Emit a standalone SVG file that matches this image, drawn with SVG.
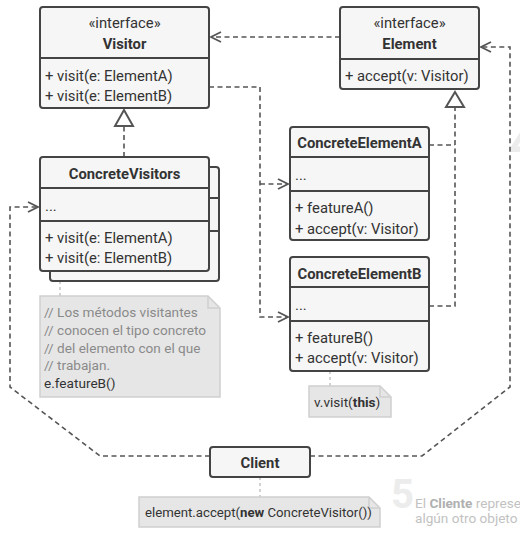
<svg xmlns="http://www.w3.org/2000/svg" width="520" height="534" viewBox="0 0 520 534">
<defs>
<style>
text{font-family:Roboto,"Liberation Sans",sans-serif;font-size:14.8px;fill:#333}
.b{font-weight:bold}
.c{text-anchor:middle}
.n{font-size:13.6px}
.box{fill:#f6f6f6;stroke:#444;stroke-width:2}
.div{stroke:#444;stroke-width:2;fill:none}
.note{fill:#e6e6e6;stroke:#cfcfcf;stroke-width:1.5}
.cm{fill:#8a8a8a}
.con{fill:none;stroke:#555;stroke-width:1.6;stroke-dasharray:5,3.5}
.dot{fill:none;stroke:#c4c4c4;stroke-width:1.5;stroke-dasharray:3,3}
.tri{fill:#fff;stroke:#555;stroke-width:2}
.bg{fill:#ececec;font-weight:bold}
.bgt{fill:#c2c2c2;font-size:13.6px}
</style>
<marker id="open" viewBox="0 0 12 12" refX="11" refY="6" markerWidth="12" markerHeight="12" markerUnits="userSpaceOnUse" orient="auto">
<path d="M1,1 L11,6 L1,11" fill="none" stroke="#555" stroke-width="1.8"/>
</marker>
</defs>
<g id="background">
<text class="bg" x="509" y="160" style="font-size:50px">4</text>
<text class="bg" x="391" y="508" style="font-size:40px">5</text>
<text class="bgt" x="415" y="508">El <tspan font-weight="bold" style="fill:#b0b0b0">Cliente</tspan> represe</text>
<text class="bgt" x="415" y="523">algún otro objeto</text>
</g>
<g id="connectors">
<path class="con" d="M340,37 H211" marker-end="url(#open)"/>
<path class="con" d="M209,87 H260 V317 H288" marker-end="url(#open)"/>
<path class="con" d="M260,184 H288" marker-end="url(#open)"/>
<path class="con" d="M124,157 V126"/>
<path class="tri" d="M124,110 L133,126 L115,126 Z"/>
<path class="con" d="M429,145 H455"/>
<path class="con" d="M429,306 H455 V107"/>
<path class="tri" d="M455,92 L464,107 L446,107 Z"/>
<path class="con" d="M310,456 H422 L510,387 V47 H481" marker-end="url(#open)"/>
<path class="con" d="M210,456 H100 L10,387 V207 H38" marker-end="url(#open)"/>
<path class="dot" d="M60,281 V296"/>
<path class="dot" d="M330,371 V386"/>
<path class="dot" d="M260,477 V497"/>
</g>
<g id="Visitor">
<rect class="box" x="40" y="7" width="169" height="101" rx="3"/>
<path class="div" d="M40,58 H209"/>
<text class="c" x="124.5" y="28">«interface»</text>
<text class="c b" x="124.5" y="48.5">Visitor</text>
<text x="45" y="80.5">+ visit(e: ElementA)</text>
<text x="45" y="100.5">+ visit(e: ElementB)</text>
</g>
<g id="Element">
<rect class="box" x="340" y="7" width="139" height="82" rx="3"/>
<path class="div" d="M340,59 H479"/>
<text class="c" x="409.5" y="28">«interface»</text>
<text class="c b" x="409.5" y="48.5">Element</text>
<text x="345" y="80.5">+ accept(v: Visitor)</text>
</g>
<g id="ConcreteVisitors">
<rect class="box" x="50" y="167" width="169" height="114" rx="3"/>
<path class="div" d="M209,198 H219 M209,231 H219"/>
<rect class="box" x="40" y="157" width="169" height="114" rx="3"/>
<path class="div" d="M40,188 H209 M40,221 H209"/>
<text class="c b" x="124.5" y="178.5">ConcreteVisitors</text>
<text x="45" y="211">...</text>
<text x="45" y="242.5">+ visit(e: ElementA)</text>
<text x="45" y="263">+ visit(e: ElementB)</text>
</g>
<g id="ConcreteElementA">
<rect class="box" x="290" y="127" width="139" height="113" rx="3"/>
<path class="div" d="M290,157 H429 M290,191 H429"/>
<text class="c b" x="359.5" y="147.5">ConcreteElementA</text>
<text x="295" y="180">...</text>
<text x="295" y="212.5">+ featureA()</text>
<text x="295" y="233.5">+ accept(v: Visitor)</text>
</g>
<g id="ConcreteElementB">
<rect class="box" x="290" y="257" width="139" height="114" rx="3"/>
<path class="div" d="M290,287 H429 M290,321 H429"/>
<text class="c b" x="359.5" y="278.5">ConcreteElementB</text>
<text x="295" y="310">...</text>
<text x="295" y="342.5">+ featureB()</text>
<text x="295" y="362.5">+ accept(v: Visitor)</text>
</g>
<g id="Client">
<rect class="box" x="210" y="447" width="100" height="30" rx="3"/>
<text class="c b" x="260" y="468">Client</text>
</g>
<g id="note-visitors">
<path class="note" d="M40,296 H208 L220,308 V397 H40 Z"/>
<path class="note" d="M208,296 V308 H220" style="fill:none"/>
<text class="cm n" x="44" y="317">// Los métodos visitantes</text>
<text class="cm n" x="44" y="335">// conocen el tipo concreto</text>
<text class="cm n" x="44" y="353">// del elemento con el que</text>
<text class="cm n" x="44" y="370">// trabajan.</text>
<text class="n" x="44" y="388">e.featureB()</text>
</g>
<g id="note-element">
<path class="note" d="M309,386 H380 L391,397 V417 H309 Z"/>
<path class="note" d="M380,386 V397 H391" style="fill:none"/>
<text class="n" x="314" y="407">v.visit(<tspan class="b">this</tspan>)</text>
</g>
<g id="note-client">
<path class="note" d="M139,497 H369 L380,508 V527 H139 Z"/>
<path class="note" d="M369,497 V508 H380" style="fill:none"/>
<text class="n" x="145" y="517" style="font-size:13.2px">element.accept(<tspan class="b">new</tspan> ConcreteVisitor())</text>
</g>
</svg>
